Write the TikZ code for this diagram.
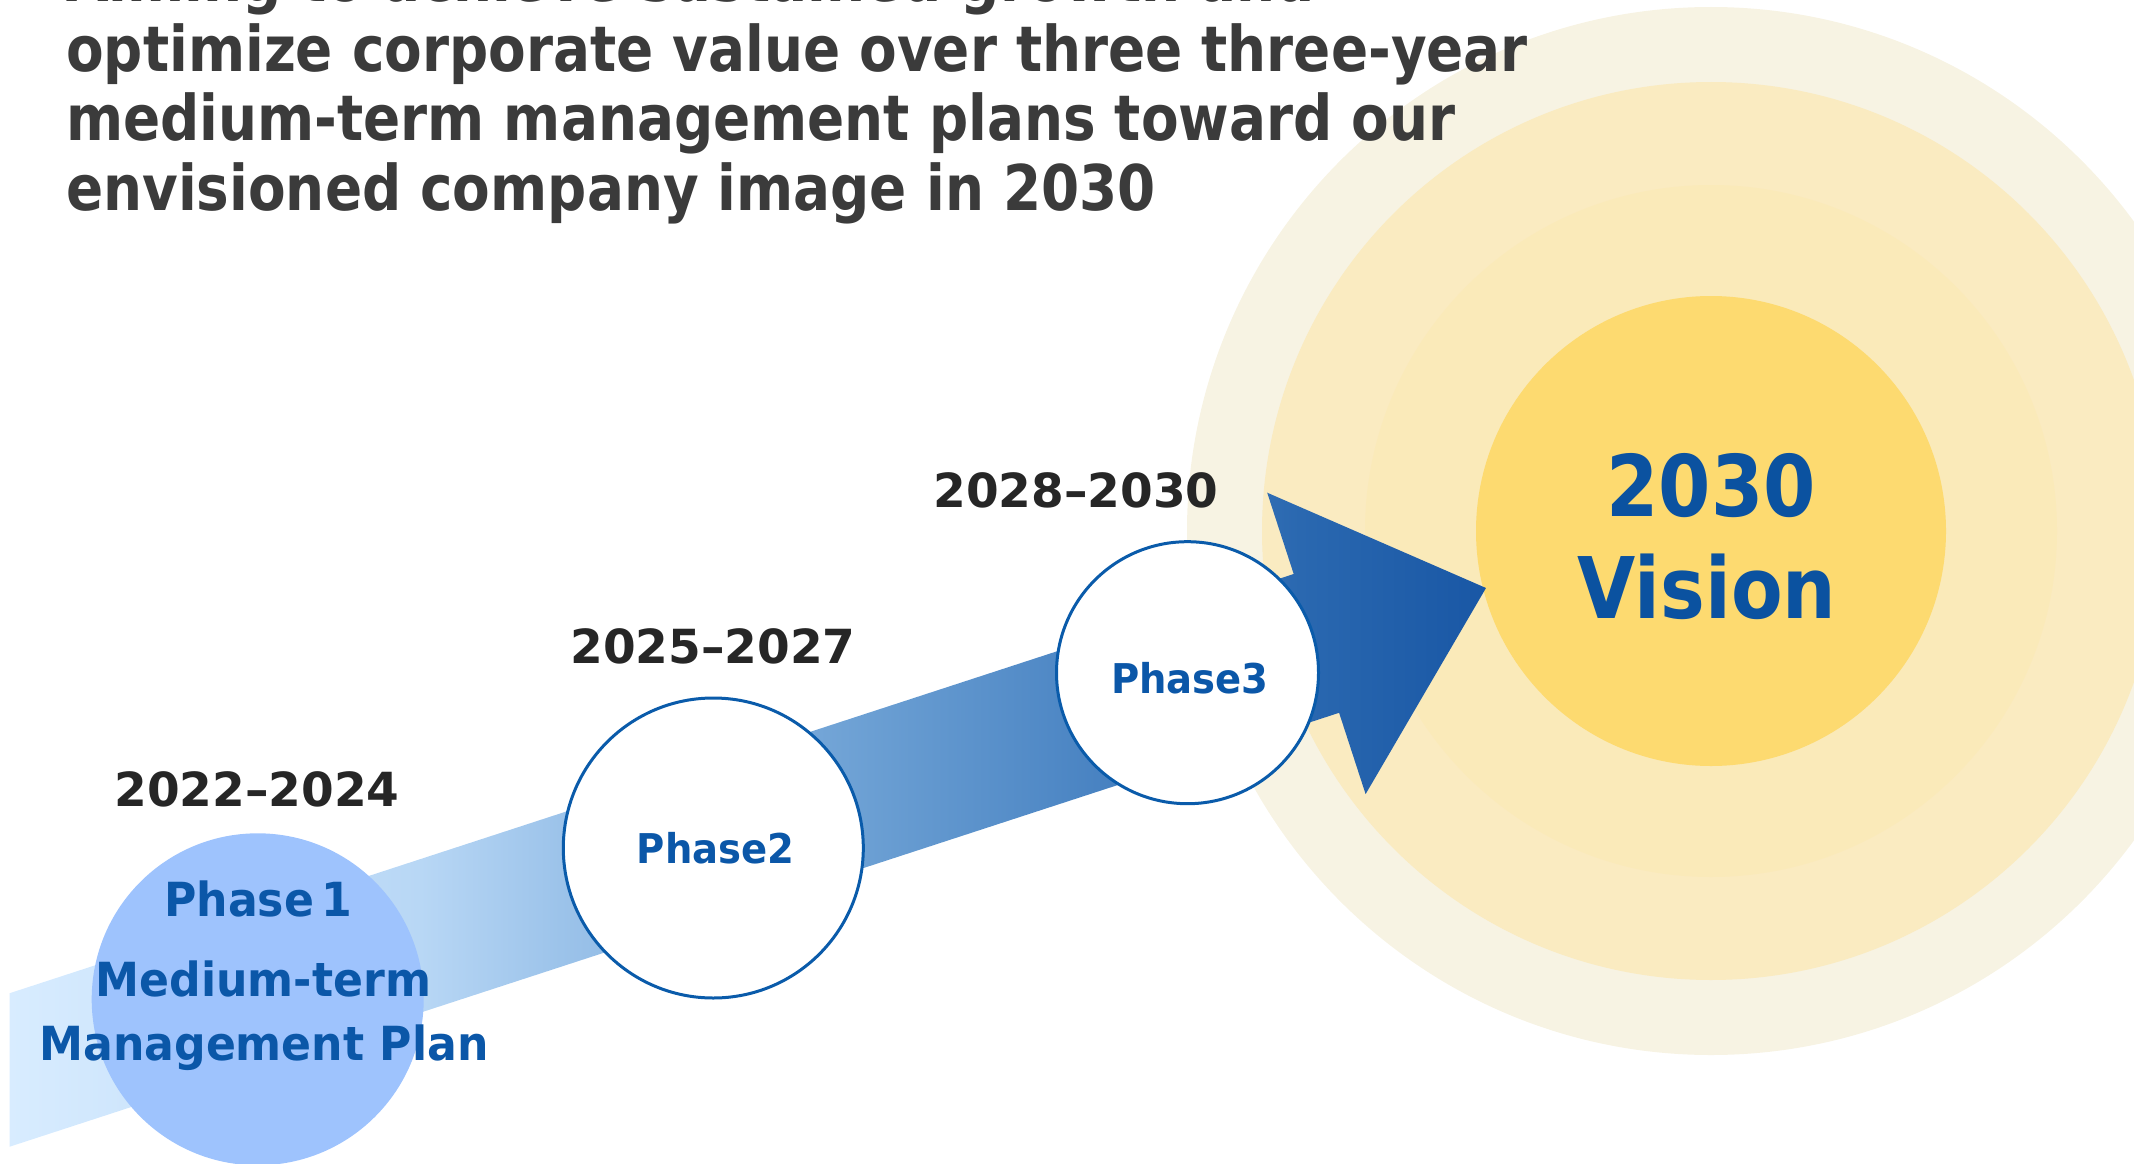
\documentclass[tikz,border=0pt]{standalone}
\usepackage{fontspec}
\setmainfont{DejaVu Sans}
\newfontfamily\headfont{DejaVu Sans}[FakeStretch=0.87]
\newfontfamily\yearfont{DejaVu Sans}
\newfontfamily\phasefont{DejaVu Sans}[FakeStretch=0.94]
\newfontfamily\visionfont{DejaVu Sans}[FakeStretch=0.885]
\definecolor{ringA}{HTML}{F7F3E3}
\definecolor{ringB}{HTML}{FAEBC1}
\definecolor{ringC}{HTML}{FAEAB9}
\definecolor{sun}{HTML}{FDDA70}
\definecolor{phaseline}{HTML}{0A5BAA}
\definecolor{phaseone}{HTML}{9EC3FD}
\definecolor{phasetext}{HTML}{0B57A8}
\definecolor{visiontext}{HTML}{0B52A0}
\definecolor{yeartext}{HTML}{262626}
\definecolor{headtext}{HTML}{3B3B3B}
\definecolor{aA}{HTML}{D8ECFF}
\definecolor{aB}{HTML}{B8D7F5}
\definecolor{aC}{HTML}{9CC3EA}
\definecolor{aD}{HTML}{6B9FD3}
\definecolor{aE}{HTML}{5089C6}
\definecolor{aF}{HTML}{2A68B0}
\definecolor{aG}{HTML}{1957A5}
\pgfdeclarehorizontalshading{arrowgrad}{100bp}{color(0bp)=(aA); color(25bp)=(aA); color(38.9bp)=(aB); color(43.65bp)=(aC); color(54.15bp)=(aD); color(60.25bp)=(aE); color(68.7bp)=(aF); color(75bp)=(aG); color(100bp)=(aG)}
\begin{document}
\begin{tikzpicture}[x=1pt,y=-1pt,
  ring/.style={circle,inner sep=0pt,draw=none},
  phasecircle/.style={circle,inner sep=0pt,draw=phaseline,line width=3pt,fill=white},
  headline/.style={anchor=base west,inner sep=0pt,text=headtext,font={\headfont\bfseries\fontsize{63pt}{70pt}\selectfont}},
  yearlabel/.style={anchor=base,inner sep=0pt,text=yeartext,font={\yearfont\bfseries\fontsize{47pt}{56pt}\selectfont}},
  phaselabel/.style={anchor=base,inner sep=0pt,text=phasetext,font={\phasefont\bfseries\fontsize{41pt}{50pt}\selectfont}},
  phaseonelabel/.style={anchor=base,inner sep=0pt,text=phasetext,font={\phasefont\bfseries\fontsize{47pt}{56pt}\selectfont}},
  visionlabel/.style={anchor=base,inner sep=0pt,text=visiontext,font={\visionfont\bfseries\fontsize{85pt}{95pt}\selectfont}}
]
\useasboundingbox (0,0) rectangle (2134,1164);
\clip (0,0) rectangle (2134,1164);
% vision circles
\node[ring,fill=ringA,minimum size=1048pt] (outer) at (1711,531) {};
\node[ring,fill=ringB,minimum size=898pt] (ringtwo) at (1711,531) {};
\node[ring,fill=ringC,minimum size=692pt] (ringthree) at (1711,531) {};
\node[ring,fill=sun,minimum size=470pt] (sunc) at (1711,531) {};
% arrow
\coordinate (s1) at (9.5,993.25);
\coordinate (h1) at (1293.7,574);
\coordinate (b1) at (1267.2,492.7);
\coordinate (tip) at (1486,588);
\coordinate (b2) at (1365.6,794.1);
\coordinate (h2) at (1339.1,712.8);
\coordinate (s2) at (9.5,1146.75);
\shade[shading=arrowgrad] (s1) -- (h1) -- (b1) -- (tip) -- (b2) -- (h2) -- (s2) -- cycle;
% phase circles
\node[circle,inner sep=0pt,fill=phaseone,minimum size=332pt] (p1) at (257.7,999.3) {};
\node[phasecircle,minimum size=300pt] (p2) at (713.3,848) {};
\node[phasecircle,minimum size=262pt] (p3) at (1187.5,672.7) {};
% heading
\node[headline] (t1) at (66,2) {Aiming to achieve sustained growth and};
\node[headline] (t2) at (66,71.7) {optimize corporate value over three three-year};
\node[headline] (t3) at (66,140) {medium-term management plans toward our};
\node[headline] (t4) at (66,210.7) {envisioned company image in 2030};
% years
\node[yearlabel] (y1) at (257,806) {2022–2024};
\node[yearlabel] (y2) at (713,663.3) {2025–2027};
\node[yearlabel] (y3) at (1076,507) {2028–2030};
% phase labels
\node[phaseonelabel] (l1a) at (258,916.7) {Phase\kern7pt 1};
\node[phaseonelabel] (l1b) at (263.5,996.7) {Medium-term};
\node[phaseonelabel] (l1c) at (264,1060) {Management Plan};
\node[phaselabel] (l2) at (715.6,863.3) {Phase2};
\node[phaselabel] (l3) at (1190,693.3) {Phase3};
% vision
\node[visionlabel] (v1) at (1711,516.7) {2030};
\node[visionlabel] (v2) at (1707,618.3) {Vision};
\end{tikzpicture}
\end{document}
